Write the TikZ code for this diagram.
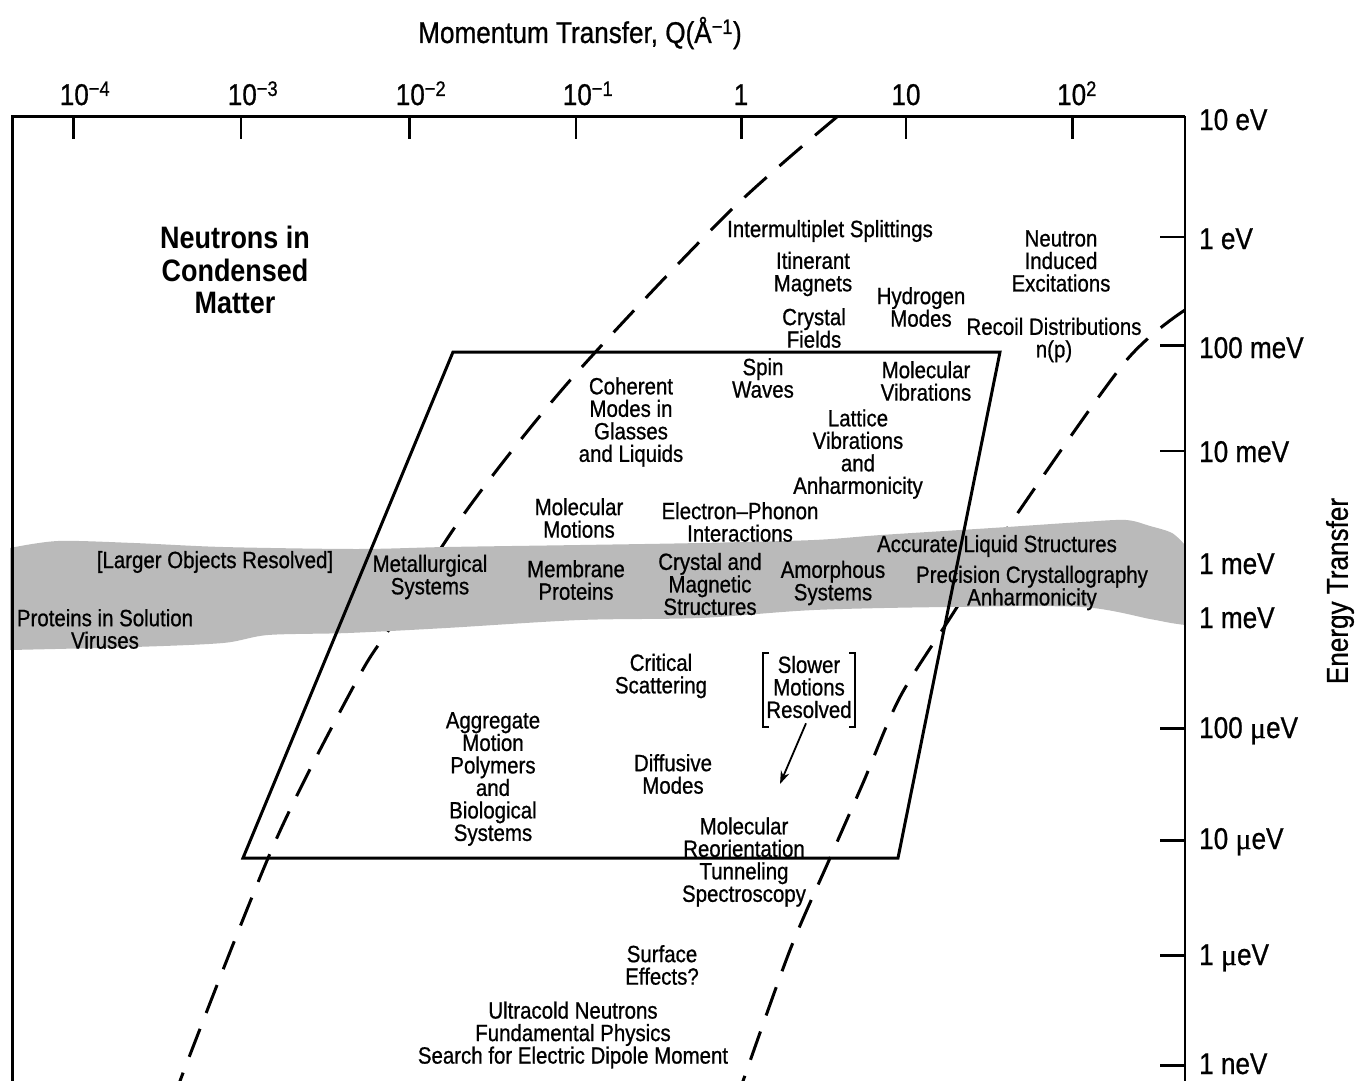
\documentclass[tikz,border=0pt]{standalone}
\usepackage{fontspec}
\setmainfont{Liberation Sans}[FakeStretch=0.87, FakeBold=0.8]
\newfontfamily\titlefamily{Liberation Sans Bold}[FakeStretch=0.87]
\newfontfamily\mufont{Liberation Serif}[FakeBold=0.6]
\usetikzlibrary{arrows.meta}

\definecolor{bandgray}{RGB}{186,186,186}
\newcommand\lblfont{\fontsize{23.5}{22.5}\selectfont}
\newcommand\axfont{\fontsize{30}{32}\selectfont}
\newcommand\titlefont{\fontsize{31}{32.5}\selectfont\titlefamily}
\newcommand\mueV{{\mufont μ}eV}

\tikzset{
  lbl/.style={inner sep=0pt, align=center, font=\lblfont},
  axlbl/.style={inner sep=0pt, font=\axfont},
  kinline/.style={line width=3pt, dash pattern=on 30pt off 17pt},
  winline/.style={line width=3pt, line join=miter},
  brk/.style={line width=1.8pt},
  pointer/.style={-{Stealth[length=13pt,width=9pt]}, line width=1.8pt}
}

\begin{document}
\begin{tikzpicture}[x=1pt,y=-1pt]
  \useasboundingbox (0,0) rectangle (1360,1081);
  \clip (0,0) rectangle (1360,1081);

  % kinematic limits
  \draw[kinline] plot[smooth] coordinates {(838,116) (728,213) (573,377) (469,507)
    (392,625) (357,680) (275,842) (183,1073) (180,1090)};
  \draw[kinline] plot[smooth] coordinates {(1185,310) (1125,362) (1015,517) (952,615)
    (900,697) (863,783) (830,858) (790,950) (743,1081) (740,1090)};

  % grey band
  \fill[bandgray] plot[smooth] coordinates {(10,548) (58,541) (134,543) (223,547)
      (357,549) (446,547) (580,545) (700,543) (814,540) (881,535) (992,528)
      (1082,522) (1126,520) (1150,526) (1172,533) (1185,545)}
    -- plot[smooth] coordinates {(1185,625) (1171,623) (1150,619) (1082,607)
      (948,607) (814,610) (700,618) (580,620) (446,628) (348,633) (268,635)
      (223,643) (134,647) (10,650)} -- cycle;

  % instrument window
  \coordinate (winTL) at (453,352);
  \coordinate (winTR) at (1000,352);
  \coordinate (winBR) at (898,858);
  \coordinate (winBL) at (243,858);
  \draw[winline] (winTL) -- (winTR) -- (winBR) -- (winBL) -- cycle;

  % frame and ticks
  \draw[line width=3pt] (12,1090) -- (12,116) -- (1185,116);
  \draw[line width=2.5pt] (1185,116) -- (1185,1090);
  \foreach \x/\w in {73/3, 241/1.8, 409/3, 576/1.8, 741/3, 906/1.8, 1072/3}
    \draw[line width=\w pt] (\x,116) -- (\x,139);
  \foreach \y/\w in {237/1.6, 345/3, 451/1.6, 728/3, 840/3, 955/3, 1065/3}
    \draw[line width=\w pt] (1160,\y) -- (1185,\y);

  % axis labels
  \node[axlbl] (qtitle) at (580,33) {Momentum Transfer, Q(Å\textsuperscript{−1})};
  \foreach \x/\t [count=\i] in {85/10\textsuperscript{−4}, 253/10\textsuperscript{−3},
      421/10\textsuperscript{−2}, 588/10\textsuperscript{−1}, 741/1, 906/10,
      1077/10\textsuperscript{2}}
    \node[axlbl, anchor=base] (q\i) at (\x,105) {\t};
  \foreach \y/\t [count=\i] in {130/10 eV, 249/1 eV, 358/100 meV, 462/10 meV,
      574/1 meV, 628/1 meV, 738/100 \mueV, 849/10 \mueV, 965/1 \mueV, 1074/1 neV}
    \node[axlbl, anchor=base west] (e\i) at (1199,\y) {\t};
  \node[axlbl, rotate=90] (etitle) at (1340,591) {Energy Transfer};

  \node[inner sep=0pt, align=center, font=\titlefont] (title) at (235,270)
    {Neutrons in\\Condensed\\Matter};

  % high energy
  \node[lbl] (intermult) at (830,231) {Intermultiplet Splittings};
  \node[lbl] (itin) at (813,274) {Itinerant\\Magnets};
  \node[lbl] (cfield) at (814,328) {Crystal\\Fields};
  \node[lbl] (hydro) at (921,307) {Hydrogen\\Modes};
  \node[lbl] (induced) at (1061,261) {Neutron\\Induced\\Excitations};
  \node[lbl] (recoil) at (1054,340) {Recoil Distributions\\n(p)};
  \node[lbl] (spin) at (763,378) {Spin\\Waves};
  \node[lbl] (molvib) at (926,381) {Molecular\\Vibrations};
  \node[lbl] (coherent) at (631,422) {Coherent\\Modes in\\Glasses\\and Liquids};
  \node[lbl] (lattice) at (858,454) {Lattice\\Vibrations\\and\\Anharmonicity};
  \node[lbl] (molmot) at (579,518) {Molecular\\Motions};
  \node[lbl] (elph) at (740,522) {Electron–Phonon\\Interactions};

  % band
  \node[lbl] (larger) at (215,562) {[Larger Objects Resolved]};
  \node[lbl] (metal) at (430,577) {Metallurgical\\Systems};
  \node[lbl] (membrane) at (576,580) {Membrane\\Proteins};
  \node[lbl] (cryst) at (710,584) {Crystal and\\Magnetic\\Structures};
  \node[lbl] (amorph) at (833,583) {Amorphous\\Systems};
  \node[lbl] (liquid) at (997,546) {Accurate Liquid Structures};
  \node[lbl] (precis) at (1032,588) {Precision Crystallography\\Anharmonicity};
  \node[lbl] (solution) at (105,629) {Proteins in Solution\\Viruses};

  % low energy
  \node[lbl] (critical) at (661,676) {Critical\\Scattering};
  \node[lbl] (slow) at (809,687) {Slower\\Motions\\Resolved};
  \draw[brk] (769,653) -- (763,653) -- (763,727) -- (769,727);
  \draw[brk] (849,653) -- (855,653) -- (855,727) -- (849,727);
  \coordinate (slowtip) at (780,784);
  \draw[pointer] ([xshift=-3pt,yshift=-5pt]slow.south) -- (slowtip);
  \node[lbl] (aggr) at (493,779) {Aggregate\\Motion\\Polymers\\and\\Biological\\Systems};
  \node[lbl] (diffus) at (673,774) {Diffusive\\Modes};
  \node[lbl] (reorient) at (744,862) {Molecular\\Reorientation\\Tunneling\\Spectroscopy};
  \node[lbl] (surface) at (662,965) {Surface\\Effects?};
  \node[lbl] (ucn) at (573,1035) {Ultracold Neutrons\\Fundamental Physics\\Search for Electric Dipole Moment};
\end{tikzpicture}
\end{document}
